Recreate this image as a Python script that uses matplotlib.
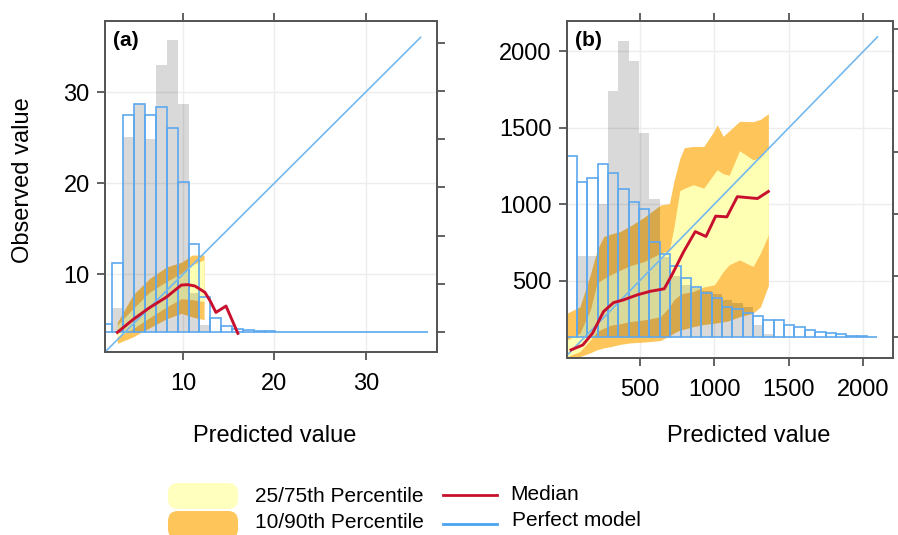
import numpy as np
import matplotlib
matplotlib.use("Agg")
import matplotlib.pyplot as plt
import matplotlib.transforms as mtransforms
from matplotlib.patches import FancyBboxPatch
from matplotlib.lines import Line2D

plt.rcParams['font.family'] = ['Liberation Sans', 'DejaVu Sans']

# ---------------- panel (a) ----------------
a_range = [1.08, 36.78]          # predicted range used for the 30 histogram bins
a_obs_hist = [0.17, 1.43, 4.5, 4.74, 4.5, 4.67, 4.23, 3.12, 1.83, 0.73,
              0.29, 0.12, 0.06, 0.04, 0.03, 0.02, 0.01, 0.01, 0.01, 0,
              0.01, 0.01, 0, 0, 0.01, 0, 0, 0, 0, 0.01]
a_pred_hist = [0, 0.49, 4.04, 4.74, 4.0, 5.54, 6.06, 4.74, 0.8, 0.15,
               0, 0, 0, 0, 0, 0, 0, 0, 0, 0,
               0, 0, 0, 0, 0, 0, 0, 0, 0, 0]
a_band_x = [2.8, 4.5, 6.3, 8.2, 9.8, 11.0, 12.3]
a_q90 = [4.7, 7.7, 9.5, 10.8, 11.3, 12.1, 12.1]
a_q75 = [4.4, 6.2, 8.0, 9.2, 10.1, 11.0, 11.6]
a_q25 = [3.1, 4.0, 5.2, 6.4, 7.3, 7.2, 7.0]
a_q10 = [2.4, 3.1, 4.1, 5.1, 5.7, 5.3, 5.0]
a_med_x = [2.8, 4.5, 6.3, 8.2, 9.8, 10.5, 11.3, 12.4, 13.0, 13.6, 14.7, 16.0]
a_med_y = [3.6, 5.0, 6.3, 7.5, 8.8, 8.85, 8.7, 8.0, 7.0, 5.8, 6.5, 3.5]
a_diag = [1.45, 36.0]
a_ticks = [10, 20, 30]

# ---------------- panel (b) ----------------
b_range = [10.8, 2093]
b_obs_hist = [2.94, 2.52, 2.58, 2.81, 2.66, 2.41, 2.20, 2.09, 1.54, 1.36,
              1.15, 0.97, 0.82, 0.72, 0.64, 0.50, 0.46, 0.40, 0.34, 0.28,
              0.28, 0.20, 0.16, 0.12, 0.08, 0.065, 0.05, 0.02, 0.015, 0.01]
b_pred_hist = [0, 1.32, 1.32, 2.17, 4.0, 4.81, 4.49, 3.31, 2.24, 1.3,
               1.0, 0.85, 0.8, 0.75, 0.7, 0.6, 0.55, 0.5, 0.2, 0.05,
               0, 0, 0, 0, 0, 0, 0, 0, 0, 0]
b_band_x = [14, 100, 170, 215, 260, 305, 370, 440, 530, 640, 700, 730,
            770, 800, 860, 930, 1000, 1020, 1060, 1100, 1170, 1260, 1310, 1363]
b_q90 = [289, 330, 540, 700, 790, 805, 822, 860, 915, 995, 1005, 1150,
         1300, 1370, 1378, 1378, 1480, 1520, 1444, 1480, 1542, 1540, 1555, 1592]
b_q75 = [114, 158, 310, 485, 515, 539, 570, 600, 626, 681, 700, 850,
         1090, 1105, 1128, 1106, 1200, 1226, 1200, 1190, 1350, 1291, 1305, 1370]
b_q25 = [5, 38, 114, 170, 191, 210, 220, 235, 245, 266, 330, 376,
         410, 420, 430, 460, 474, 500, 560, 605, 637, 594, 681, 800]
b_q10 = [0, 5, 30, 50, 62, 70, 85, 95, 100, 110, 140, 160,
         178, 185, 201, 215, 223, 226, 232, 240, 266, 289, 330, 470]
b_med_x = [41, 120, 185, 259, 326, 393, 483, 572, 665, 720, 795, 873,
           945, 1010, 1085, 1155, 1290, 1363]
b_med_y = [49, 81, 158, 300, 358, 376, 408, 432, 448, 545, 690, 822,
           790, 923, 918, 1050, 1038, 1084]
b_diag = [10, 2094]
b_ticks = [500, 1000, 1500, 2000]

YELLOW = '#FFFFB4'
ORANGE = '#FDC55A'
BLUE = '#5DA8EE'
DIAG = '#74B8EE'
RED = '#C8102E'
AXC = '#555555'


def draw_panel(ax, lims_x, lims_y, hist_lim, n_hist_ticks, hrange, obs_hist, pred_hist,
               band_x, q10, q25, q75, q90, med_x, med_y, diag, ticks, tag):
    ax2 = ax.twinx()
    ax2.set_ylim(hist_lim)
    ax2.set_yticks(range(n_hist_ticks))
    ax2.set_yticklabels([])
    # histogram heights live on the right-hand (twin) scale
    trans = mtransforms.blended_transform_factory(ax.transData, ax2.transData)
    edges = np.linspace(hrange[0], hrange[1], len(obs_hist) + 1)
    widths = np.diff(edges)

    ax.fill_between(band_x, q10, q90, color=ORANGE, lw=0, zorder=1)
    ax.fill_between(band_x, q25, q75, color=YELLOW, lw=0, zorder=1.1)
    ax.bar(edges[:-1], pred_hist, width=widths, align='edge', color='black',
           alpha=0.15, lw=0, transform=trans, zorder=2)
    ax.bar(edges[:-1], obs_hist, width=widths, align='edge', facecolor='none',
           edgecolor=BLUE, lw=1.2, transform=trans, zorder=3)
    ax.plot(diag, diag, color=DIAG, lw=1.2, zorder=4)
    ax.plot(med_x, med_y, color=RED, lw=2.1, zorder=5)

    ax.set_xlim(lims_x)
    ax.set_ylim(lims_y)
    ax.set_xticks(ticks)
    ax.set_yticks(ticks)
    ax.set_axisbelow(True)
    ax.grid(True, color='#EDEDED', lw=1)

    ax.tick_params(axis='both', direction='out', length=6, width=1.3, color=AXC,
                   labelsize=17, top=True, labeltop=False)
    ax.tick_params(axis='x', pad=9)
    ax.tick_params(axis='y', pad=5)
    ax2.tick_params(axis='y', direction='out', length=6, width=1.3, color=AXC)
    for a in (ax, ax2):
        for s in a.spines.values():
            s.set_color(AXC)
            s.set_linewidth(1.3)

    ax.text(0.025, 0.94, tag, transform=ax.transAxes, fontsize=15,
            fontweight='bold', va='center', ha='left')
    ax.set_xlabel('Predicted value', fontsize=17)
    return ax2


fig = plt.figure(figsize=(8.98, 5.35), dpi=100)
ax_a = fig.add_axes([0.1169, 0.342, 0.3697, 0.6187])
ax_b = fig.add_axes([0.6311, 0.3314, 0.363, 0.63])

draw_panel(ax_a, (1.45, 37.8), (1.45, 37.8), (-0.415, 6.452), 7, a_range,
           a_obs_hist, a_pred_hist, a_band_x, a_q10, a_q25, a_q75, a_q90,
           a_med_x, a_med_y, a_diag, a_ticks, '(a)')
draw_panel(ax_b, (12, 2196), (-2, 2200), (-0.331, 5.14), 6, b_range,
           b_obs_hist, b_pred_hist, b_band_x, b_q10, b_q25, b_q75, b_q90,
           b_med_x, b_med_y, b_diag, b_ticks, '(b)')

ax_a.set_ylabel('Observed value', fontsize=17)
ax_a.yaxis.set_label_coords(-0.215, 0.52)
ax_a.xaxis.set_label_coords(0.512, -0.22)
ax_b.xaxis.set_label_coords(0.559, -0.20)

# ---------------- legend ----------------
leg_font = dict(fontsize=15)
fig.patches.append(FancyBboxPatch((1.70, 0.28), 0.66, 0.22,
                                  boxstyle='round,pad=0.02,rounding_size=0.1',
                                  transform=fig.dpi_scale_trans, fc='#FFFFBE', ec='none'))
fig.patches.append(FancyBboxPatch((1.70, -0.02), 0.66, 0.24,
                                  boxstyle='round,pad=0.02,rounding_size=0.1',
                                  transform=fig.dpi_scale_trans, fc=ORANGE, ec='none'))
fig.text(255 / 898, 1 - 497 / 535, '25/75th Percentile', va='center', ha='left', **leg_font)
fig.text(255 / 898, 1 - 523 / 535, '10/90th Percentile', va='center', ha='left', **leg_font)
fig.lines.append(Line2D([443 / 898, 497 / 898], [1 - 495 / 535, 1 - 495 / 535],
                        transform=fig.transFigure, color=RED, lw=2))
fig.lines.append(Line2D([443 / 898, 497 / 898], [1 - 524 / 535, 1 - 524 / 535],
                        transform=fig.transFigure, color='#4AA3F0', lw=2))
fig.text(510 / 898, 1 - 494 / 535, 'Median', va='center', ha='left', **leg_font)
fig.text(512 / 898, 1 - 521 / 535, 'Perfect model', va='center', ha='left', **leg_font)

fig.savefig('out.png', dpi=100)
